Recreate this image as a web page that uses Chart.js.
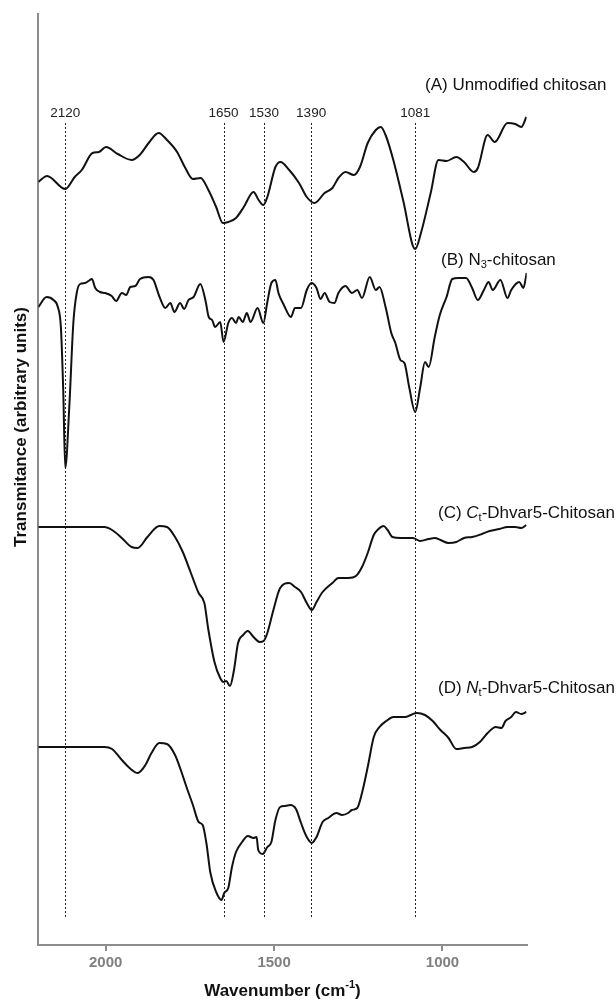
<!DOCTYPE html>
<html>
<head>
<meta charset="utf-8">
<title>FTIR spectra of chitosan derivatives</title>
<script src="https://cdn.jsdelivr.net/npm/chart.js@4.4.1/dist/chart.umd.min.js"></script>
<style>
  html, body { margin: 0; padding: 0; background: #ffffff; }
  #wrap { position: relative; width: 616px; height: 1000px; }
</style>
</head>
<body>
<div id="wrap"><canvas id="ftir" width="616" height="1000"></canvas></div>
<script>
// ---- Spectra (wavenumber in cm-1, transmittance in arbitrary stacked units) ----
const wnA = [2200,2174,2120,2092,2071,2039,2020,1999,1964,1923,1899,1870,1843,1818,1788,1765,1741,1718,1695,1672,1652,1636,1613,1590,1561,1546,1532,1520,1496,1481,1455,1426,1403,1380,1350,1327,1309,1288,1263,1245,1222,1198,1183,1169,1146,1117,1081,1064,1035,1012,988,959,936,907,895,866,845,807,784,766,751];
const trA = [763,769,756,768,775,792,793,798,791,785,790,803,812,805,793,778,766,767,755,738,722,723,727,738,753,745,740,748,778,783,775,762,748,742,752,757,767,773,770,778,802,815,818,810,785,745,696,712,752,785,784,788,783,773,777,810,803,822,821,818,828];

const wnB = [2200,2175,2155,2142,2133,2126,2120,2108,2096,2086,2076,2061,2051,2041,2031,2017,2002,1982,1969,1952,1939,1927,1912,1898,1873,1858,1840,1823,1808,1796,1779,1767,1754,1739,1719,1704,1694,1684,1675,1660,1650,1636,1625,1613,1605,1593,1581,1570,1549,1532,1520,1508,1496,1487,1471,1450,1438,1420,1403,1389,1374,1362,1350,1335,1321,1309,1288,1269,1253,1239,1216,1198,1187,1169,1152,1140,1125,1113,1099,1081,1066,1052,1041,1023,1008,988,971,953,930,912,895,877,863,851,828,807,796,772,760,750];
const trB = [638,648,645,638,618,555,477,538,622,652,661,662,664,666,657,653,652,649,644,652,650,658,659,666,668,665,648,637,642,633,642,636,645,648,661,645,628,625,618,623,603,622,627,622,628,623,632,623,637,622,643,662,665,652,640,628,637,637,655,662,657,646,652,643,642,652,659,652,655,647,668,655,658,638,612,602,585,582,558,533,558,583,578,608,630,648,666,667,667,657,645,655,663,655,665,647,655,663,657,672];

const wnC = [2200,2100,2028,2004,1981,1952,1923,1905,1876,1841,1818,1794,1771,1747,1724,1707,1695,1677,1660,1650,1642,1631,1619,1607,1592,1578,1561,1543,1531,1520,1502,1482,1455,1438,1420,1403,1388,1374,1356,1327,1309,1280,1257,1239,1222,1204,1190,1175,1163,1149,1123,1088,1066,1041,1023,1006,982,959,936,912,883,860,831,807,784,766,751];
const trC = [418,418,418,418,415,407,398,397,408,419,418,408,393,372,352,342,315,283,267,263,264,259,275,302,310,314,308,303,304,312,335,357,362,358,353,342,335,343,353,362,367,367,369,378,392,410,416,419,415,408,407,407,404,406,407,405,402,403,407,408,411,414,416,418,418,417,420];

const wnD = [2200,2100,2004,1981,1952,1929,1905,1882,1864,1841,1818,1794,1777,1759,1741,1724,1712,1701,1689,1672,1656,1648,1636,1625,1613,1595,1578,1561,1552,1547,1534,1520,1508,1496,1482,1467,1452,1435,1420,1403,1388,1374,1356,1339,1315,1298,1280,1269,1253,1239,1222,1204,1187,1167,1146,1111,1094,1076,1052,1029,1006,982,959,936,912,889,866,842,825,813,796,782,766,751];
const trD = [198,198,198,196,185,177,172,180,192,202,201,190,175,157,140,123,120,102,72,53,45,52,57,78,93,103,109,107,108,95,91,98,103,125,138,139,140,136,122,108,102,108,123,127,132,130,132,135,137,152,178,208,218,224,228,228,230,232,230,224,215,207,196,197,198,203,212,218,217,224,228,233,231,233];

// Marked absorption bands (cm-1) and x-axis tick values
const bandMarks = [2120, 1650, 1530, 1390, 1081];
const xTickValues = [2000, 1500, 1000];
const seriesNames = ['(A) Unmodified chitosan', '(B) N3-chitosan', '(C) Ct-Dhvar5-Chitosan', '(D) Nt-Dhvar5-Chitosan'];

// ---- Styling ----
const FONT = '"Liberation Sans", Arial, Helvetica, sans-serif';
const AXIS_COLOR = '#8c8c8c';
const TICK_COLOR = '#808080';
const LINE_COLOR = '#111111';

function zip(xs, ys) { return xs.map((x, i) => ({ x: x, y: ys[i] })); }

const spectra = [[wnA, trA], [wnB, trB], [wnC, trC], [wnD, trD]];
const datasets = spectra.map((s, i) => ({
  label: seriesNames[i],
  data: zip(s[0], s[1]),
  borderColor: LINE_COLOR,
  borderWidth: 2,
  pointRadius: 0,
  fill: false,
  cubicInterpolationMode: 'monotone'
}));

// Rich-text pieces for the series captions (subscripts / italics)
const captionLayout = [
  { x: 425, y: 85,  parts: [{ t: '(A) Unmodified chitosan' }] },
  { x: 441, y: 260, parts: [{ t: '(B) N' }, { t: '3', sub: true }, { t: '-chitosan' }] },
  { x: 438, y: 513, parts: [{ t: '(C) ' }, { t: 'C', it: true }, { t: 't', sub: true }, { t: '-Dhvar5-Chitosan' }] },
  { x: 438, y: 688, parts: [{ t: '(D) ' }, { t: 'N', it: true }, { t: 't', sub: true }, { t: '-Dhvar5-Chitosan' }] }
];

function richWidth(ctx, parts, size, bold) {
  let w = 0;
  for (const p of parts) {
    const s = (p.sub || p.sup) ? size * 0.65 : size;
    ctx.font = (p.it ? 'italic ' : '') + (bold ? 'bold ' : '') + s + 'px ' + FONT;
    w += ctx.measureText(p.t).width;
  }
  return w;
}

function drawRich(ctx, parts, x, y, size, bold) {
  let cx = x;
  for (const p of parts) {
    const s = (p.sub || p.sup) ? size * 0.65 : size;
    ctx.font = (p.it ? 'italic ' : '') + (bold ? 'bold ' : '') + s + 'px ' + FONT;
    const dy = p.sub ? size * 0.3 : (p.sup ? -size * 0.35 : 0);
    ctx.fillText(p.t, cx, y + dy);
    cx += ctx.measureText(p.t).width;
  }
}

// Dashed band markers drawn behind the spectra, captions and axis titles on top
const bandLines = {
  id: 'bandLines',
  beforeDatasetsDraw(chart) {
    const ctx = chart.ctx;
    const xs = chart.scales.x, ys = chart.scales.y;
    const top = ys.getPixelForValue(822), bottom = ys.getPixelForValue(28);
    ctx.save();
    ctx.strokeStyle = '#222';
    ctx.lineWidth = 1;
    ctx.setLineDash([2, 2]);
    for (const b of bandMarks) {
      const px = Math.round(xs.getPixelForValue(b)) + 0.5;
      ctx.beginPath();
      ctx.moveTo(px, top);
      ctx.lineTo(px, bottom);
      ctx.stroke();
    }
    ctx.restore();
  },
  afterDraw(chart) {
    const ctx = chart.ctx;
    const xs = chart.scales.x, ys = chart.scales.y;
    ctx.save();
    ctx.fillStyle = '#222';
    ctx.textBaseline = 'middle';
    ctx.textAlign = 'center';
    ctx.font = '13.5px ' + FONT;
    const labelY = ys.getPixelForValue(832);
    for (const b of bandMarks) {
      ctx.fillText(String(b), xs.getPixelForValue(b), labelY);
    }

    // series captions
    ctx.textAlign = 'left';
    ctx.fillStyle = '#111';
    for (const c of captionLayout) drawRich(ctx, c.parts, c.x, c.y, 17, false);

    // x-axis title with superscript
    const xt = [{ t: 'Wavenumber (cm' }, { t: '-1', sup: true }, { t: ')' }];
    const w = richWidth(ctx, xt, 17, true);
    const cx = (chart.chartArea.left + chart.chartArea.right) / 2;
    drawRich(ctx, xt, cx - w / 2, 991, 17, true);

    // y-axis title
    ctx.translate(21.5, 427);
    ctx.rotate(-Math.PI / 2);
    ctx.textAlign = 'center';
    ctx.font = 'bold 17px ' + FONT;
    ctx.fillText('Transmitance (arbitrary units)', 0, 0);
    ctx.restore();
  }
};

new Chart(document.getElementById('ftir').getContext('2d'), {
  type: 'line',
  data: { datasets: datasets },
  options: {
    responsive: false,
    animation: false,
    devicePixelRatio: 1,
    layout: { padding: { top: 14, right: 89.3, left: 0, bottom: 0 } },
    plugins: { legend: { display: false }, tooltip: { enabled: false } },
    scales: {
      x: {
        type: 'linear',
        reverse: true,
        min: 750,
        max: 2200,
        afterBuildTicks: s => { s.ticks = xTickValues.map(v => ({ value: v })); },
        afterFit: s => { s.height = 55; },
        grid: { drawOnChartArea: false, drawTicks: true, tickLength: 6, color: AXIS_COLOR, lineWidth: 2 },
        border: { display: true, color: AXIS_COLOR, width: 2 },
        ticks: {
          font: { family: FONT, size: 15, weight: 'bold' },
          color: TICK_COLOR,
          padding: 3,
          maxRotation: 0,
          callback: v => String(v)
        }
      },
      y: {
        type: 'linear',
        min: 0,
        max: 931,
        afterFit: s => { s.width = 38.3; },
        ticks: { display: false },
        grid: { display: false },
        border: { display: true, color: AXIS_COLOR, width: 2 }
      }
    }
  },
  plugins: [bandLines]
});
</script>
</body>
</html>
